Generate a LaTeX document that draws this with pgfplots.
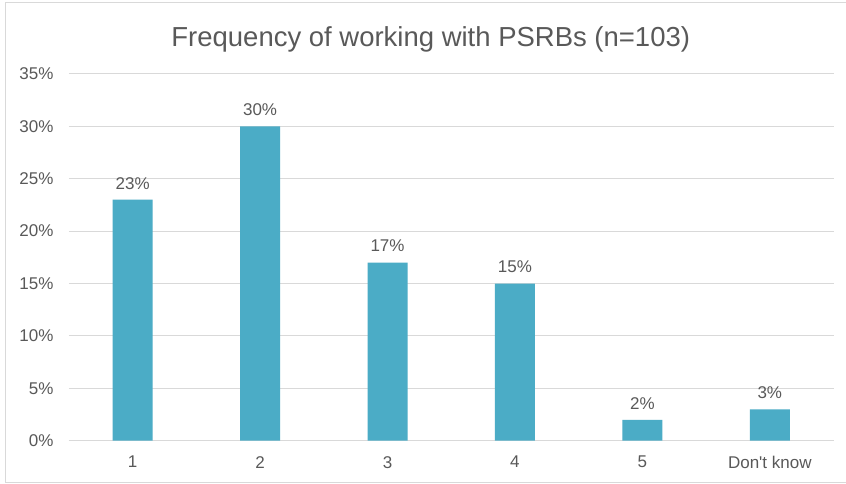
\documentclass[border=0pt]{standalone}
\usepackage{pgfplots}
\pgfplotsset{compat=1.18}
\usepackage{fontspec}
\setmainfont{Liberation Sans}[Ligatures=TeXOff]
\definecolor{barc}{HTML}{4BACC6}
\definecolor{txt}{HTML}{595959}
\definecolor{gridc}{HTML}{D9D9D9}
\begin{document}
\begin{tikzpicture}[x=1pt,y=1pt]
\fill[white] (0,0) rectangle (846,484);
\draw[gridc, line width=1pt] (846,481) -- (5.5,481) -- (5.5,1) -- (846,1);
\node[txt, font=\fontsize{27.5}{32}\selectfont, anchor=base] at (431,437) {Frequency of working with PSRBs (n=103)};
\begin{axis}[
  at={(69pt,43pt)}, anchor=south west,
  scale only axis, width=765pt, height=367pt,
  ymin=0, ymax=35, ytick={0,5,...,35},
  xmin=-0.5, xmax=5.5,
  xtick={0,...,5},
  xticklabels={1,2,3,4,5,Don't know},
  yticklabel={\pgfmathprintnumber{\tick}\%},
  /pgf/number format/assume math mode=true,
  axis line style={draw=none},
  axis x line*=bottom,
  x axis line style={draw=gridc, line width=1pt},
  ymajorgrids, xmajorgrids=false, grid style={draw=gridc, line width=1pt},
  major tick length=0pt,
  tick label style={txt, font=\fontsize{17}{20}\selectfont},
  yticklabel style={xshift=-12pt},
  xticklabel style={yshift=-12pt},
  ybar, bar width=40pt,
  nodes near coords={\pgfmathprintnumber{\pgfplotspointmeta}\%},
  nodes near coords style={txt, font=\fontsize{17}{20}\selectfont, yshift=7pt},
  clip=false,
]
\addplot[fill=barc, draw=none] coordinates {(0,23) (1,30) (2,17) (3,15) (4,2) (5,3)};
\end{axis}
\end{tikzpicture}
\end{document}
